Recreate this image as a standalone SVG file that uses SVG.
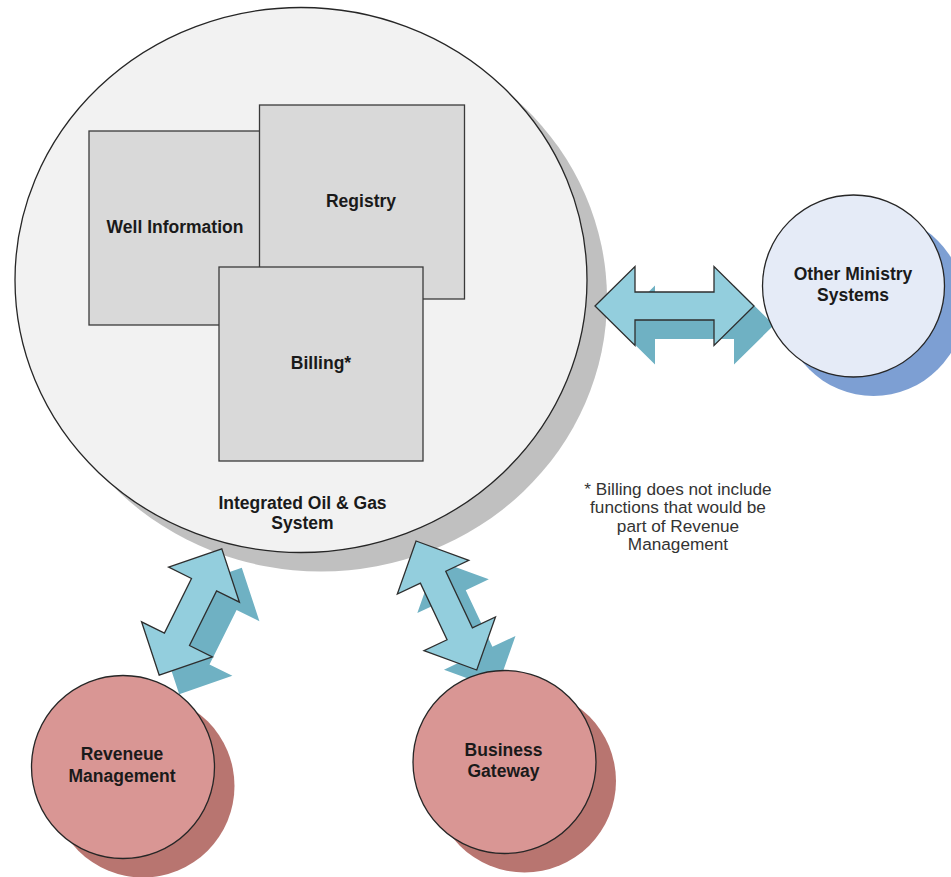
<svg xmlns="http://www.w3.org/2000/svg" width="951" height="877" viewBox="0 0 951 877">
<style>
.lbl{font-family:"Liberation Sans",Arial,sans-serif;font-weight:bold;font-size:17.5px;fill:#1a1a1a;text-anchor:middle}
.note{font-family:"Liberation Sans",Arial,sans-serif;font-size:17.2px;fill:#333;text-anchor:middle}
.ln{stroke:#262626;stroke-width:1.3}
.box{fill:#d9d9d9;stroke:#3a3a3a;stroke-width:1.3}
.arr{fill:#93cedd;stroke:#2e2e2e;stroke-width:1.3;stroke-linejoin:miter}
.arrsh{fill:#6fb1c3}
</style>
<defs>
<path id="a159" d="M -79.5 0 L -39.5 -39.5 L -39.5 -14 L 39.5 -14 L 39.5 -39.5 L 79.5 0 L 39.5 39.5 L 39.5 14 L -39.5 14 L -39.5 39.5 Z"/>
<path id="a141" d="M -70.5 0 L -30.5 -39.5 L -30.5 -14 L 30.5 -14 L 30.5 -39.5 L 70.5 0 L 30.5 39.5 L 30.5 14 L -30.5 14 L -30.5 39.5 Z"/>
<path id="a142" d="M -71.3 0 L -31.3 -39.5 L -31.3 -14 L 31.3 -14 L 31.3 -39.5 L 71.3 0 L 31.3 39.5 L 31.3 14 L -31.3 14 L -31.3 39.5 Z"/>
</defs>
<rect width="951" height="877" fill="#ffffff"/>

<g id="integrated-system">
<ellipse cx="321" cy="299" rx="286" ry="272.5" fill="#c0c0c0"/>
<ellipse class="ln" cx="301" cy="280" rx="286" ry="272.5" fill="#f2f2f2"/>
<text class="lbl" x="302.5" y="509">Integrated Oil &amp; Gas</text>
<text class="lbl" x="302.5" y="529">System</text>
</g>
<g id="well-information">
<rect class="box" x="89" y="131" width="205" height="194"/>
<text class="lbl" x="175" y="233">Well Information</text>
</g>
<g id="registry">
<rect class="box" x="259.5" y="105" width="205" height="194"/>
<text class="lbl" x="361" y="207">Registry</text>
</g>
<g id="billing">
<rect class="box" x="219" y="267" width="204" height="194"/>
<text class="lbl" x="321" y="369">Billing*</text>
</g>

<g id="connectors">
<use href="#a159" class="arrsh" transform="translate(694.5,325)"/>
<use href="#a141" class="arrsh" transform="translate(210.5,631) rotate(-63.65)"/>
<use href="#a142" class="arrsh" transform="translate(466.4,624.5) rotate(64.8)"/>
<use href="#a159" class="arr" transform="translate(674.5,306)"/>
<use href="#a141" class="arr" transform="translate(190.5,612) rotate(-63.65)"/>
<use href="#a142" class="arr" transform="translate(446.4,605.5) rotate(64.8)"/>
</g>

<g id="other-ministry-systems">
<circle cx="873.5" cy="305" r="91" fill="#7d9fd3"/>
<circle class="ln" cx="853.5" cy="286" r="91" fill="#e5ebf7"/>
<text class="lbl" x="853" y="280">Other Ministry</text>
<text class="lbl" x="853" y="301">Systems</text>
</g>
<g id="revenue-management">
<circle cx="143" cy="786" r="91.5" fill="#b87570"/>
<circle class="ln" cx="123" cy="767" r="91.5" fill="#d99694"/>
<text class="lbl" x="122" y="760">Reveneue</text>
<text class="lbl" x="122" y="781.5">Management</text>
</g>
<g id="business-gateway">
<circle cx="524.5" cy="781" r="91.5" fill="#b87570"/>
<circle class="ln" cx="504.5" cy="762" r="91.5" fill="#d99694"/>
<text class="lbl" x="503.5" y="755.5">Business</text>
<text class="lbl" x="503.5" y="777">Gateway</text>
</g>

<g id="footnote">
<text class="note" x="678" y="495">* Billing does not include</text>
<text class="note" x="678" y="513.3">functions that would be</text>
<text class="note" x="678" y="531.7">part of Revenue</text>
<text class="note" x="678" y="550">Management</text>
</g>
</svg>
